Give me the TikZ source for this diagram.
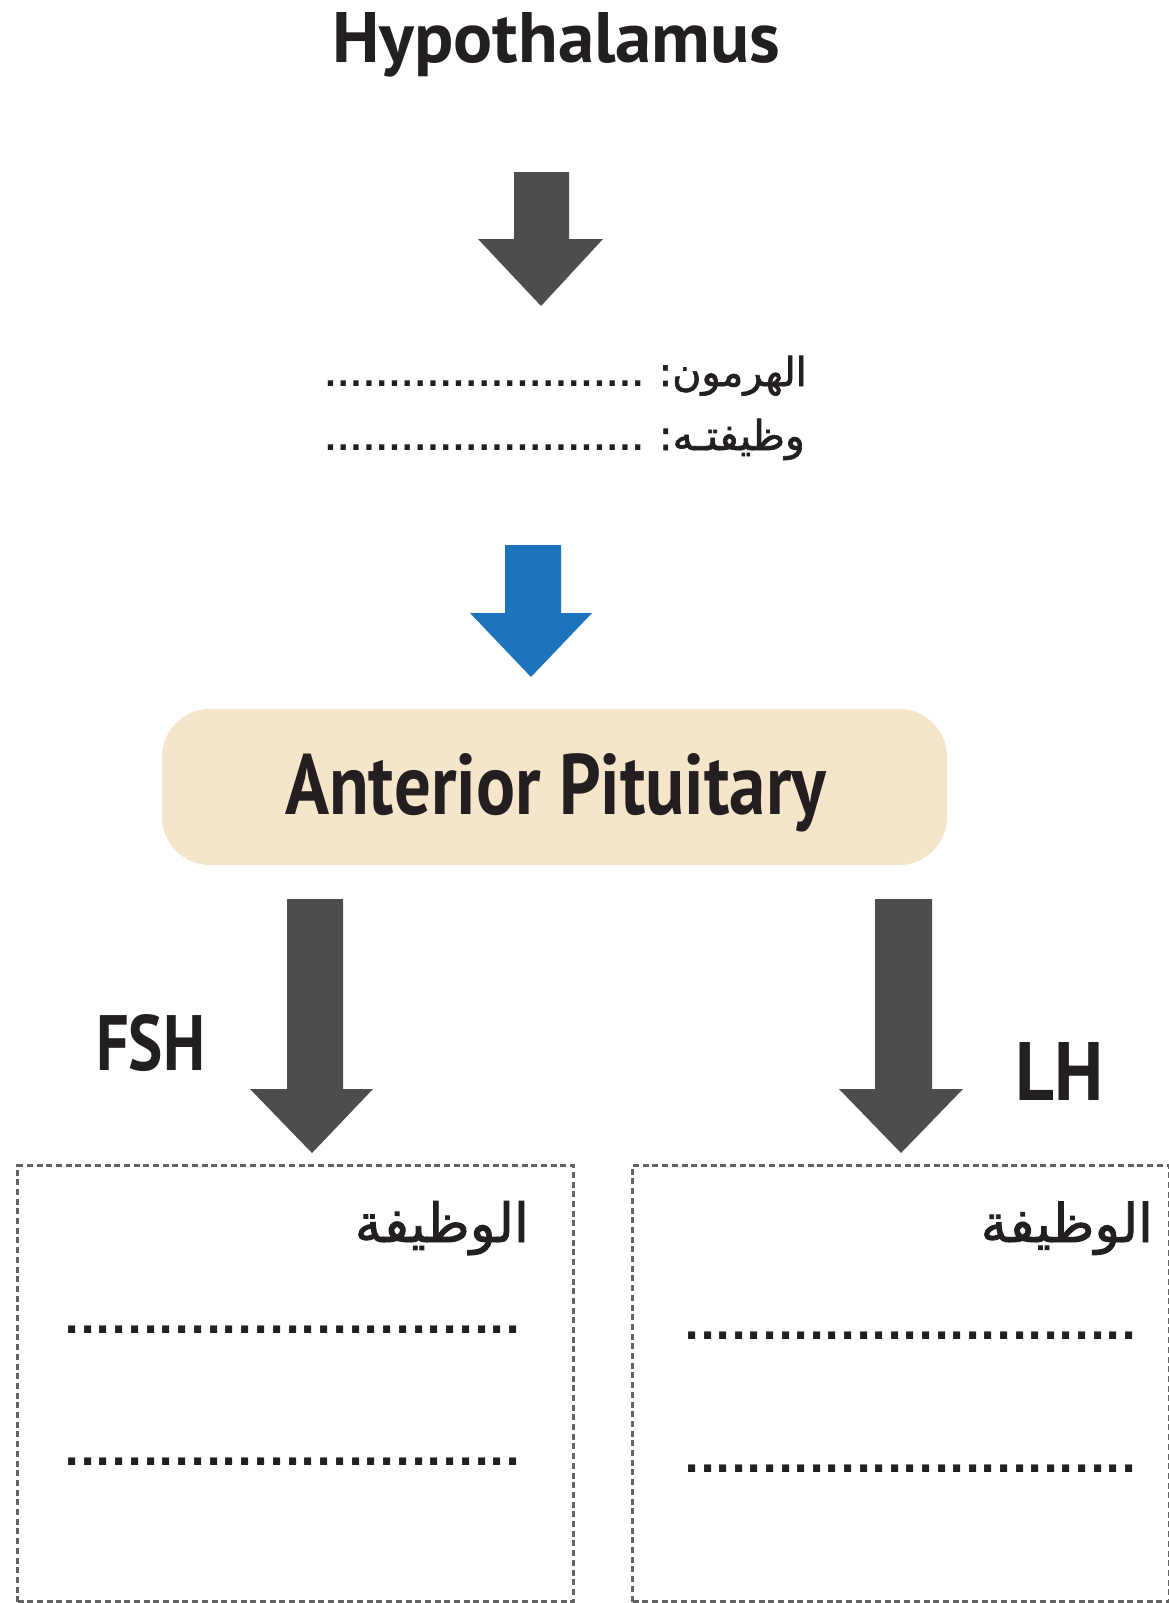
\documentclass[tikz,border=0pt]{standalone}
\usepackage{fontspec}
\setmainfont{PT Sans}
\newfontfamily\arabicfont[Script=Arabic, FakeBold=1.6]{DejaVu Sans}
\newfontfamily\dotfont{DejaVu Sans}
\TeXXeTstate=1
\definecolor{arrowgray}{HTML}{4D4D4F}
\definecolor{arrowblue}{HTML}{1C75BC}
\definecolor{boxbeige}{HTML}{F5E6CB}
\definecolor{inkblack}{HTML}{231F20}
\definecolor{dashgray}{HTML}{636366}
\newcount\dotcnt
\newcommand\dotrow[2]{\dotcnt=0\relax\loop\makebox[#2]{.}\advance\dotcnt by 1\relax\ifnum\dotcnt<#1\repeat}
\tikzset{
  titletext/.style={inner sep=0pt, text=inkblack, font=\bfseries},
  artext/.style={inner sep=0pt, text=inkblack, anchor=base east},
  smalldots/.style={inner sep=0pt, text=inkblack, anchor=base west, font=\dotfont\bfseries\fontsize{30}{34}\selectfont},
  bigdots/.style={inner sep=0pt, text=inkblack, anchor=base west, font=\dotfont\bfseries\fontsize{40}{46}\selectfont},
  fnbox/.style={draw=dashgray, line width=3pt, dash pattern=on 6pt off 3.7pt, inner sep=0pt, anchor=north west},
}
\begin{document}
\begin{tikzpicture}[x=1pt,y=-1pt]
\useasboundingbox (0,0) rectangle (1169,1603);
\fill[white] (0,0) rectangle (1169,1603);

% Hypothalamus
\node[titletext, anchor=base west] (hypo) at (332,63) {\resizebox{448pt}{50pt}{Hypothalamus}};

% arrow 1
\fill[arrowgray] (514,172) -- (569,172) -- (569,239) -- (603,239) -- (541,306) -- (478,239) -- (514,239) -- cycle;

% hormone lines
\node[artext] (hormone) at (807,386) {\resizebox{148pt}{!}{\arabicfont\beginR الهرمون:\endR}};
\node[smalldots] (hdots) at (324,386) {\dotrow{25}{12.8pt}};
\node[artext] (func) at (805,450) {\resizebox{146pt}{!}{\arabicfont\beginR وظيفتـه:\endR}};
\node[smalldots] (fdots) at (324,450) {\dotrow{25}{12.8pt}};

% blue arrow
\fill[arrowblue] (505,545) -- (561,545) -- (561,613) -- (592,613) -- (531,677) -- (470,613) -- (505,613) -- cycle;

% Anterior pituitary
\node[fill=boxbeige, rounded corners=48pt, minimum width=785pt, minimum height=156pt, inner sep=0pt] (ap) at (554.5,787) {};
\node[titletext, anchor=base west] (aptext) at (285,814) {\resizebox{541pt}{61pt}{Anterior Pituitary}};

% FSH arrow
\fill[arrowgray] (287,899) -- (343,899) -- (343,1089) -- (373,1089) -- (312,1153) -- (250,1089) -- (287,1089) -- cycle;
\node[titletext, anchor=base west] (fsh) at (96,1070) {\resizebox{109pt}{56pt}{FSH}};

% LH arrow
\fill[arrowgray] (875,899) -- (932,899) -- (932,1089) -- (963,1089) -- (901,1153) -- (839,1089) -- (875,1089) -- cycle;
\node[titletext, anchor=base west] (lh) at (1015,1100) {\resizebox{88pt}{58pt}{LH}};

% boxes
\node[fnbox, minimum width=556pt, minimum height=436pt] (fshbox) at (16,1164) {};
\node[fnbox, minimum width=537pt, minimum height=436pt] (lhbox) at (631,1164) {};

\node[artext] (fshfn) at (529,1242) {\resizebox{174pt}{!}{\arabicfont\beginR الوظيفة\endR}};
\node[bigdots] (fd1) at (64,1333) {\dotrow{29}{15.75pt}};
\node[bigdots] (fd2) at (64,1465) {\dotrow{29}{15.75pt}};

\node[artext] (lhfn) at (1153,1242) {\resizebox{172pt}{!}{\arabicfont\beginR الوظيفة\endR}};
\node[bigdots] (ld1) at (684,1339) {\dotrow{29}{15.6pt}};
\node[bigdots] (ld2) at (684,1472) {\dotrow{29}{15.6pt}};
\end{tikzpicture}
\end{document}
